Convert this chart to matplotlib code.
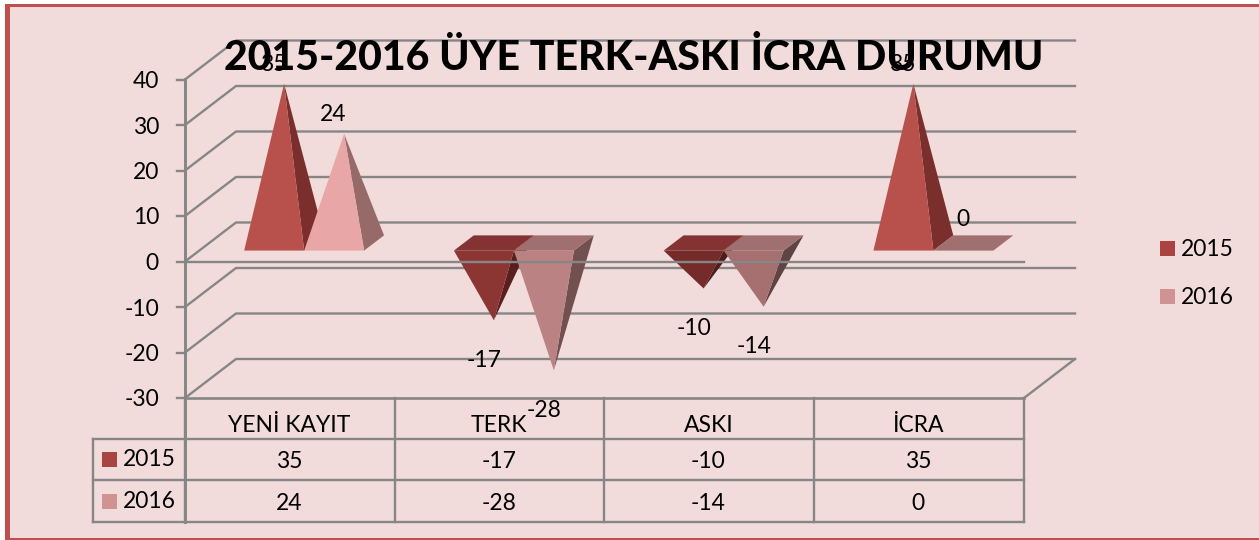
import matplotlib
matplotlib.use("Agg")
import matplotlib.pyplot as plt
from matplotlib.patches import Polygon, Rectangle

plt.rcParams["font.family"] = ["Lato", "DejaVu Sans"]

categories = ["YENİ KAYIT", "TERK", "ASKI", "İCRA"]
values_2015 = [35, -17, -10, 35]
values_2016 = [24, -28, -14, 0]
y_ticks = [40, 30, 20, 10, 0, -10, -20, -30]
title = "2015-2016 ÜYE TERK-ASKI İCRA DURUMU"

W, H = 1259, 540
BG = "#f2dcdb"
GRID = "#868686"
BORDER = "#c0504d"
CAT_PX = 209.75
VAL_PX = 4.55
X0, Y0 = 185, 261.5
DEPTH_X = 51 / CAT_PX
DEPTH_Y = 39 / VAL_PX
BAR_W = 60 / CAT_PX
D_FRONT, D_MID, D_BACK = 0.28, 0.475, 0.67

styles = {
    "2015": dict(front="#b8504b", side="#7b2f2d", nfront="#8c3634", nside="#591f1f",
                 sfront="#742b2a", sside="#4f1c1c", top="#843332", key="#a94442"),
    "2016": dict(front="#e8a6a6", side="#976a6a", nfront="#ba8282", nside="#735050",
                 sfront="#a67070", sside="#5f4444", top="#a06f6f", key="#d09393"),
}

fig = plt.figure(figsize=(W / 100, H / 100), dpi=100, facecolor="white")

# pixel layer: frame, table, legend
px = fig.add_axes([0, 0, 1, 1])
px.set_xlim(0, W)
px.set_ylim(H, 0)
px.axis("off")
px.add_patch(Rectangle((5, 4), W, H, fc=BORDER, ec="none"))
px.add_patch(Rectangle((10, 7), W, 530.5, fc=BG, ec="none"))

# chart layer: x in categories, y in data values
ax = fig.add_axes([0, 0, 1, 1], zorder=2)
ax.set_xlim(-X0 / CAT_PX, (W - X0) / CAT_PX)
ax.set_ylim((Y0 - H) / VAL_PX, Y0 / VAL_PX)
ax.axis("off")


def proj(x, v, d):
    return x + d * DEPTH_X, v + d * DEPTH_Y


n = len(categories)

for v in y_ticks:
    back_l = proj(0, v, 1)
    back_r = proj(n, v, 1)
    ax.plot([0, back_l[0], back_r[0]], [v, back_l[1], back_r[1]], color=GRID, lw=1.7, zorder=1)
    ax.plot([-8 / CAT_PX, 0], [v, v], color=GRID, lw=1.7, zorder=1)
    ax.annotate(str(v), (0, v), xytext=(-26, -2), textcoords="offset pixels",
                ha="right", va="center", fontsize=16.5, color="black")

# right edge of the floor at the axis minimum
ax.plot([n, proj(n, -30, 1)[0]], [-30, proj(n, -30, 1)[1]], color=GRID, lw=1.7, zorder=1)
ax.plot([0, n], [-30, -30], color=GRID, lw=1.9, zorder=1)


def draw_pyramid(x, value, st):
    fl = proj(x, 0, D_FRONT)
    fr = proj(x + BAR_W, 0, D_FRONT)
    br = proj(x + BAR_W, 0, D_BACK)
    bl = proj(x, 0, D_BACK)
    tip = proj(x + BAR_W / 2, value, D_MID)
    if value > 0:
        ax.add_patch(Polygon([fr, br, tip], fc=st["side"], ec="none", zorder=3))
        ax.add_patch(Polygon([fl, fr, tip], fc=st["front"], ec="none", zorder=3))
    elif value < 0:
        # shallow pyramids catch less light
        shallow = value > -15
        ax.add_patch(Polygon([fr, br, tip], fc=st["sside" if shallow else "nside"], ec="none", zorder=3))
        ax.add_patch(Polygon([fl, fr, tip], fc=st["sfront" if shallow else "nfront"], ec="none", zorder=3))
        ax.add_patch(Polygon([fl, fr, br, bl], fc=st["top"], ec="none", zorder=3))
    else:
        ax.add_patch(Polygon([fl, fr, br, bl], fc=st["top"], ec="none", zorder=3))
    if value > 0:
        off = (-11, 19)
    elif value < 0:
        off = (-10, -40)
    else:
        off = (-10, 23)
    ax.annotate(str(value), tip, xytext=off, textcoords="offset pixels",
                ha="center", va="center", fontsize=16.5, color="black", zorder=6)


for i in range(n):
    left = i + 0.5 - BAR_W
    draw_pyramid(left, values_2015[i], styles["2015"])
    draw_pyramid(left + BAR_W, values_2016[i], styles["2016"])

# zero line of the front edge sits over the pyramids
ax.plot([0, n], [0, 0], color=GRID, lw=1.7, zorder=4)

fig.text(634 / W, 1 - 58 / H, title, ha="center", va="center", fontsize=29.5,
         fontweight=900, color="black", zorder=5)

# data table
col_x = [X0 + i * CAT_PX for i in range(n + 1)]
row_y = [398, 439, 480, 522]
key_l = 93
for x in col_x:
    px.plot([x, x], [row_y[0], row_y[-1]], color=GRID, lw=1.7)
px.plot([X0, X0], [79, row_y[-1]], color=GRID, lw=2.1)
for y in row_y[1:]:
    px.plot([key_l, col_x[-1]], [y, y], color=GRID, lw=1.7)
px.plot([key_l, key_l], [row_y[1], row_y[-1]], color=GRID, lw=1.7)

for i, cat in enumerate(categories):
    cx = X0 + (i + 0.5) * CAT_PX
    px.text(cx - 1, 425, cat, ha="center", va="center", fontsize=16.5)
    px.text(cx - 1, 461, str(values_2015[i]), ha="center", va="center", fontsize=16.5)
    px.text(cx - 1, 503, str(values_2016[i]), ha="center", va="center", fontsize=16.5)

for name, y in zip(styles, (459.5, 501.5)):
    px.add_patch(Rectangle((102, y - 7.5), 15, 15, fc=styles[name]["key"], ec="none"))
    px.text(123, y + 0.5, name, ha="left", va="center", fontsize=16.5)

# legend
for name, y in zip(styles, (248.5, 296.5)):
    px.add_patch(Rectangle((1160, y - 7.5), 15, 15, fc=styles[name]["key"], ec="none"))
    px.text(1181, y + 0.5, name, ha="left", va="center", fontsize=16.5)

fig.savefig("out.png", dpi=100, facecolor="white")
